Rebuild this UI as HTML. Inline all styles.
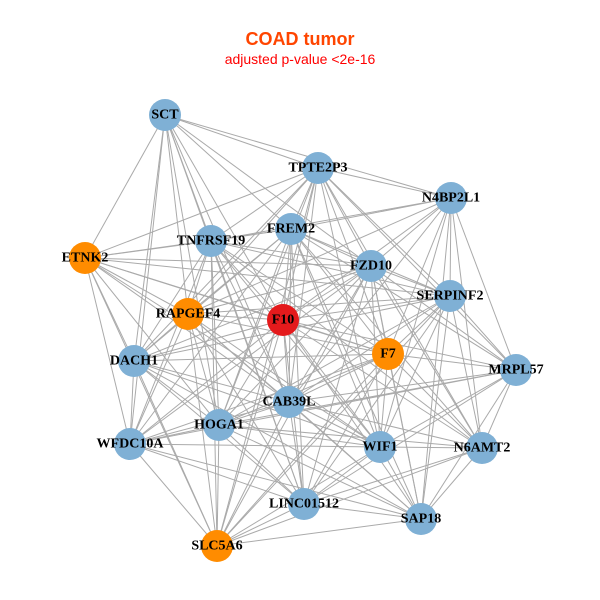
<!DOCTYPE html>
<html><head><meta charset="utf-8"><style>
body{margin:0;background:#fff;width:600px;height:600px;overflow:hidden}
svg{display:block}
.l{font-family:"Liberation Serif",serif;font-weight:bold;font-size:14px;fill:#000;text-anchor:middle;dominant-baseline:central}
</style></head><body>
<svg id="s" width="600" height="600" xmlns="http://www.w3.org/2000/svg">
<text x="300" y="45" font-family="Liberation Sans,sans-serif" font-weight="bold" font-size="18" fill="#ff4500" text-anchor="middle">COAD tumor</text>
<text x="300" y="64" font-family="Liberation Sans,sans-serif" font-size="14" fill="#ff0000" text-anchor="middle">adjusted p-value &lt;2e-16</text>
<g id="e" stroke="#aaaaaa" stroke-width="1"></g>
<g id="n"></g>
<g>
<text class="l" x="165" y="115">SCT</text>
<text class="l" x="318" y="168">TPTE2P3</text>
<text class="l" x="451" y="198">N4BP2L1</text>
<text class="l" x="291" y="229">FREM2</text>
<text class="l" x="211" y="241">TNFRSF19</text>
<text class="l" x="85" y="258">ETNK2</text>
<text class="l" x="371" y="266">FZD10</text>
<text class="l" x="450" y="296">SERPINF2</text>
<text class="l" x="188" y="314">RAPGEF4</text>
<text class="l" x="283" y="320">F10</text>
<text class="l" x="388" y="354">F7</text>
<text class="l" x="134" y="361">DACH1</text>
<text class="l" x="516" y="370">MRPL57</text>
<text class="l" x="289" y="402">CAB39L</text>
<text class="l" x="219" y="425">HOGA1</text>
<text class="l" x="130" y="444">WFDC10A</text>
<text class="l" x="380" y="447">WIF1</text>
<text class="l" x="482" y="448">N6AMT2</text>
<text class="l" x="304" y="504">LINC01512</text>
<text class="l" x="421" y="519">SAP18</text>
<text class="l" x="217" y="546">SLC5A6</text>
</g>
</svg>
<script>
var N=[[165,115,'b'],[318,168,'b'],[451,198,'b'],[291,229,'b'],[211,241,'b'],[85,258,'o'],[371,266,'b'],[450,296,'b'],[188,314,'o'],[283,320,'r'],[388,354,'o'],[134,361,'b'],[516,370,'b'],[289,402,'b'],[219,425,'b'],[130,444,'b'],[380,447,'b'],[482,448,'b'],[304,504,'b'],[421,519,'b'],[217,546,'o']];
var C={b:'#7fb0d5',o:'#ff8c00',r:'#e41a1c'};
var e=document.getElementById('e'),n=document.getElementById('n'),ns='http://www.w3.org/2000/svg';
for(var i=0;i<N.length;i++)for(var j=i+1;j<N.length;j++){
var dx=N[i][0]-N[j][0],dy=N[i][1]-N[j][1],d=Math.sqrt(dx*dx+dy*dy);
if(d<320||i==0&&j<=2||(i+j)%3==0&&d<420){var l=document.createElementNS(ns,'line');
l.setAttribute('x1',N[i][0]);l.setAttribute('y1',N[i][1]);l.setAttribute('x2',N[j][0]);l.setAttribute('y2',N[j][1]);e.appendChild(l);}}
N.forEach(function(p){var c=document.createElementNS(ns,'circle');c.setAttribute('cx',p[0]);c.setAttribute('cy',p[1]);c.setAttribute('r',16);c.setAttribute('fill',C[p[2]]);n.appendChild(c);});
</script>
</body></html>
